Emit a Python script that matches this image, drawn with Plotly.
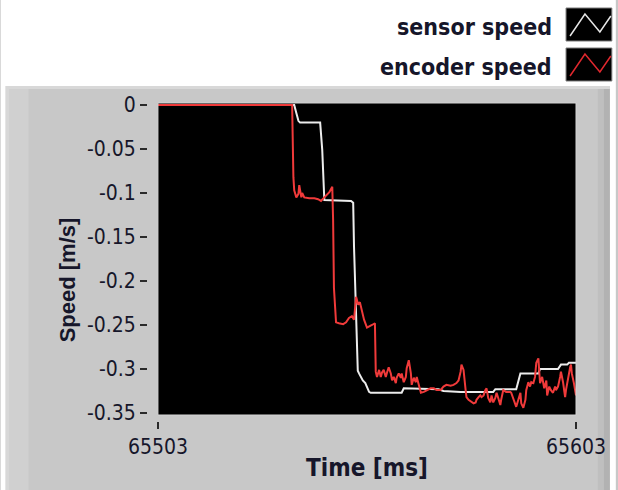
import plotly.graph_objects as go

# ---------------- data ----------------
series_names = ["sensor speed", "encoder speed"]

sensor_t = [65503, 65535.6, 65536.1, 65536.6, 65537.0, 65541.8, 65542.3, 65542.8,
            65549.2, 65549.7, 65549.9, 65550.4, 65550.8, 65551.1, 65551.6, 65552.0,
            65552.6, 65553.0, 65553.5, 65553.9, 65561.3, 65561.8, 65570.1, 65571.3,
            65575.4, 65583.2, 65583.7, 65588.7, 65589.2, 65589.7, 65594.0, 65594.4,
            65598.7, 65599.4, 65600.9, 65601.3, 65603]
sensor_v = [0, 0, -0.009, -0.018, -0.020, -0.020, -0.051, -0.108,
            -0.109, -0.111, -0.161, -0.256, -0.302, -0.305, -0.310, -0.313,
            -0.316, -0.320, -0.326, -0.327, -0.327, -0.322, -0.323, -0.325,
            -0.326, -0.326, -0.323, -0.323, -0.313, -0.305, -0.305, -0.300,
            -0.300, -0.295, -0.295, -0.293, -0.293]

encoder_t = [65503, 65535.1, 65535.4, 65535.6, 65536.1, 65536.6, 65536.8, 65537.3,
             65537.5, 65538.0, 65539.2, 65540.4, 65541.3, 65542.0, 65542.8, 65543.5,
             65544.0, 65544.7, 65544.9, 65545.1, 65545.6, 65546.3, 65547.3, 65548.0,
             65548.7, 65549.4, 65549.9, 65550.4, 65550.9, 65551.3, 65551.8, 65552.3,
             65553.0, 65553.5, 65554.2, 65554.9, 65555.1, 65555.4, 65555.9, 65556.3,
             65556.6, 65557.0, 65557.5, 65557.8, 65558.2, 65558.7, 65559.0, 65559.4,
             65559.9, 65560.1, 65560.6, 65561.1, 65561.3, 65561.8, 65562.3, 65562.5,
             65563.0, 65563.5, 65563.7, 65564.2, 65564.7, 65564.9, 65565.4, 65565.9,
             65566.6, 65567.3, 65568.2, 65569.0, 65569.7, 65570.6, 65571.3, 65572.0,
             65573.0, 65573.7, 65574.4, 65574.9, 65575.4, 65575.6, 65576.1, 65576.6,
             65576.8, 65577.3, 65578.0, 65578.5, 65579.0, 65579.2, 65579.7, 65580.1,
             65580.4, 65580.9, 65581.3, 65581.6, 65582.0, 65582.5, 65582.8, 65583.2,
             65583.7, 65584.0, 65584.4, 65584.9, 65585.1, 65585.6, 65586.3, 65587.3,
             65587.5, 65588.0, 65588.5, 65588.7, 65589.2, 65589.7, 65589.9, 65590.4,
             65590.9, 65591.1, 65591.6, 65592.0, 65592.3, 65592.8, 65593.2, 65593.5,
             65594.0, 65594.2, 65594.4, 65594.9, 65595.4, 65595.9, 65596.1, 65596.6,
             65597.0, 65597.5, 65598.0, 65598.2, 65598.7, 65599.2, 65599.4, 65599.9,
             65600.4, 65600.6, 65601.1, 65601.6, 65601.8, 65602.0, 65602.5, 65602.8,
             65603.0]
encoder_v = [0, 0, -0.082, -0.097, -0.105, -0.101, -0.091, -0.105,
             -0.100, -0.105, -0.106, -0.106, -0.107, -0.109, -0.105, -0.101,
             -0.099, -0.093, -0.131, -0.208, -0.247, -0.248, -0.249, -0.247,
             -0.242, -0.240, -0.244, -0.218, -0.227, -0.224, -0.235, -0.244,
             -0.253, -0.252, -0.250, -0.248, -0.303, -0.309, -0.301, -0.309,
             -0.304, -0.301, -0.309, -0.304, -0.298, -0.305, -0.313, -0.309,
             -0.316, -0.310, -0.305, -0.310, -0.305, -0.315, -0.309, -0.299,
             -0.290, -0.305, -0.318, -0.310, -0.315, -0.309, -0.318, -0.327,
             -0.326, -0.324, -0.322, -0.322, -0.324, -0.324, -0.320, -0.318,
             -0.319, -0.318, -0.316, -0.313, -0.303, -0.295, -0.301, -0.324,
             -0.332, -0.335, -0.338, -0.339, -0.338, -0.335, -0.332, -0.330,
             -0.332, -0.330, -0.324, -0.322, -0.333, -0.338, -0.330, -0.338,
             -0.333, -0.327, -0.333, -0.341, -0.335, -0.324, -0.326, -0.326,
             -0.327, -0.333, -0.339, -0.343, -0.335, -0.327, -0.339, -0.344,
             -0.335, -0.324, -0.315, -0.320, -0.315, -0.316, -0.309, -0.293,
             -0.288, -0.301, -0.316, -0.309, -0.322, -0.313, -0.330, -0.320,
             -0.324, -0.327, -0.320, -0.324, -0.320, -0.309, -0.303, -0.315,
             -0.332, -0.324, -0.309, -0.298, -0.295, -0.305, -0.316, -0.327,
             -0.330]

y_ticks = [0, -0.05, -0.1, -0.15, -0.2, -0.25, -0.3, -0.35]
y_tick_labels = ["0", "-0.05", "-0.1", "-0.15", "-0.2", "-0.25", "-0.3", "-0.35"]
x_ticks = [65503, 65603]
x_tick_labels = ["65503", "65603"]
x_title = "Time [ms]"
y_title = "Speed [m/s]"

# ---------------- layout geometry (pixels) ----------------
W, H = 618, 490
L, R, T, B = 147, 40, 103, 69
PW, PH = W - L - R, H - T - B
PLOT_X0, PLOT_Y1 = 158, 415  # black plot area left / bottom


def px(x, y):
    return (x - L) / PW, (H - B - y) / PH


NARROW = "Liberation Sans Narrow, Arial Narrow, DejaVu Sans Condensed, Roboto Condensed, Liberation Sans, sans-serif"
REG = "Liberation Sans, Arial, sans-serif"
TXT = "#16162a"
PANEL = "#c8c8c8"

fig = go.Figure()
fig.add_trace(go.Scatter(x=sensor_t, y=sensor_v, mode="lines", name=series_names[0],
                         line=dict(color="#ececec", width=2)))
fig.add_trace(go.Scatter(x=encoder_t, y=encoder_v, mode="lines", name=series_names[1],
                         line=dict(color="#f03a3a", width=2)))

shapes = []


def rect(x0, y0, x1, y1, fill, line=None, layer="below"):
    a0 = px(x0, y1)
    a1 = px(x1, y0)
    shapes.append(dict(type="rect", xref="paper", yref="paper",
                       x0=a0[0], y0=a0[1], x1=a1[0], y1=a1[1],
                       fillcolor=fill, line=dict(width=0) if line is None else line,
                       layer=layer))


# white surroundings of the grey panel
rect(0, 0, W, 86, "white")
rect(0, 86, 5, H, "white")
rect(612, 86, W, H, "white")
# panel shading
rect(5, 86, 612, 89, "#d8d8d8")
rect(5, 89, 9, H, "#d8d8d8")
rect(9, 89, 28, H, "#d0d0d0")
rect(600, 89, 606, H, "#bfbfbf")
rect(606, 89, 612, H, "#b2b2b2")

# plot border
shapes.append(dict(type="rect", xref="x domain", yref="y domain", x0=0, x1=1, y0=0, y1=1,
                   line=dict(color="#d4d4d4", width=1), layer="above"))

# custom legend swatches
legend_rows = [(series_names[0], "#e6e6e6", 8), (series_names[1], "#e0282e", 48)]
annotations = []
for name, col, top in legend_rows:
    rect(568, top, 614, top + 33, "black", line=dict(color="#7a7a7a", width=1), layer="above")
    pts = [(572, top + 28), (587, top + 6), (602, top + 24), (613, top + 8)]
    path = "M " + " L ".join("%f,%f" % px(a, b) for a, b in pts)
    shapes.append(dict(type="path", xref="paper", yref="paper", path=path,
                       line=dict(color=col, width=1.5), layer="above"))
    ax, ay = px(556, top + 19)
    annotations.append(dict(text="<b>%s</b>" % name, x=ax, y=ay, xref="paper", yref="paper",
                            xanchor="right", yanchor="middle", showarrow=False,
                            font=dict(family=NARROW, size=23, color=TXT)))

# axis titles
tx, ty = px(368, 468)
annotations.append(dict(text="<b>%s</b>" % x_title, x=tx, y=ty, xref="paper", yref="paper",
                        xanchor="center", yanchor="middle", showarrow=False,
                        font=dict(family=NARROW, size=24, color=TXT)))
yx, yy = px(67, 280)
annotations.append(dict(text="<b>%s</b>" % y_title, x=yx, y=yy, xref="paper", yref="paper",
                        xanchor="center", yanchor="middle", showarrow=False, textangle=-90,
                        font=dict(family=REG, size=22, color=TXT)))

px_per_unit = 308 / 0.35
fig.update_layout(
    width=W, height=H,
    margin=dict(l=L, r=R, t=T, b=B, pad=0),
    paper_bgcolor=PANEL, plot_bgcolor="black",
    showlegend=False,
    shapes=shapes, annotations=annotations,
    xaxis=dict(domain=[(PLOT_X0 - L) / PW, 1], range=[65503, 65603],
               anchor="free", position=0,
               tickvals=x_ticks, ticktext=x_tick_labels,
               ticks="outside", ticklen=7, tickwidth=2, tickcolor="#2a2a2a",
               showgrid=False, zeroline=False, showline=False,
               tickfont=dict(family=NARROW, size=21, color=TXT)),
    yaxis=dict(domain=[(H - B - PLOT_Y1) / PH, 1],
               range=[-0.35 - 2 / px_per_unit, 2 / px_per_unit],
               anchor="free", position=0,
               tickvals=y_ticks, ticktext=y_tick_labels,
               ticks="outside", ticklen=7, tickwidth=1.5, tickcolor="#2a2a2a",
               showgrid=False, zeroline=False, showline=False,
               tickfont=dict(family=NARROW, size=21, color=TXT)),
)

fig.write_html("out.html")
